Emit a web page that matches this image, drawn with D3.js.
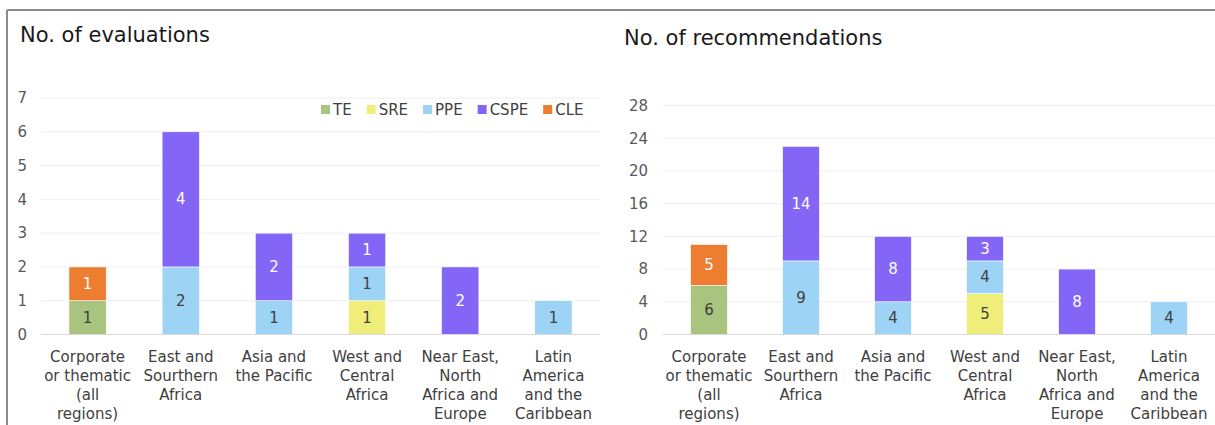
<!DOCTYPE html>
<html>
<head>
<meta charset="utf-8">
<script src="https://cdn.jsdelivr.net/npm/d3@7"></script>
<style>
  body { margin: 0; background: #fff; }
  svg { display: block; font-family: "DejaVu Sans", Verdana, sans-serif; }
</style>
</head>
<body>
<svg width="1215" height="425"></svg>
<script>
// DATA
const categories = [
  ["Corporate", "or thematic", "(all", "regions)"],
  ["East and", "Sourthern", "Africa"],
  ["Asia and", "the Pacific"],
  ["West and", "Central", "Africa"],
  ["Near East,", "North", "Africa and", "Europe"],
  ["Latin", "America", "and the", "Caribbean"]
];
const seriesNames = ["TE", "SRE", "PPE", "CSPE", "CLE"];

const evalTE   = [1, 0, 0, 0, 0, 0];
const evalSRE  = [0, 0, 0, 1, 0, 0];
const evalPPE  = [0, 2, 1, 1, 0, 1];
const evalCSPE = [0, 4, 2, 1, 2, 0];
const evalCLE  = [1, 0, 0, 0, 0, 0];
const evalTicks = [0, 1, 2, 3, 4, 5, 6, 7];

const recTE   = [6, 0, 0, 0, 0, 0];
const recSRE  = [0, 0, 0, 5, 0, 0];
const recPPE  = [0, 9, 4, 4, 0, 4];
const recCSPE = [0, 14, 8, 3, 8, 0];
const recCLE  = [5, 0, 0, 0, 0, 0];
const recTicks = [0, 4, 8, 12, 16, 20, 24, 28];

const colors = {TE: "#a9c47f", SRE: "#f0ee7a", PPE: "#9dd3f5", CSPE: "#8366f5", CLE: "#ed7d31"};
const labelColors = {TE: "#404040", SRE: "#404040", PPE: "#404040", CSPE: "#ffffff", CLE: "#ffffff"};

const svg = d3.select("svg");

// frame lines
svg.append("line").attr("x1", 7).attr("x2", 1215).attr("y1", 10).attr("y2", 10)
  .attr("stroke", "#8c8c8c").attr("stroke-width", 2);
svg.append("line").attr("x1", 7).attr("x2", 7).attr("y1", 10).attr("y2", 425)
  .attr("stroke", "#8c8c8c").attr("stroke-width", 2);

function drawChart(opt) {
  const rows = categories.map((c, i) => {
    const r = {i: i};
    seriesNames.forEach(s => { r[s] = opt.values[s][i]; });
    return r;
  });
  const stacked = d3.stack().keys(seriesNames)(rows);

  const x = d3.scaleBand().domain(d3.range(categories.length))
    .range([opt.left, opt.right]).paddingInner(0.6).paddingOuter(0.3);
  const y = d3.scaleLinear().domain([0, d3.max(opt.ticks)]).range([opt.bottom, opt.top]);

  const g = svg.append("g");

  // title
  g.append("text").attr("x", opt.titleX).attr("y", opt.titleY)
    .attr("font-size", 21).attr("fill", "#1a1a1a").text(opt.title);

  // gridlines
  g.selectAll(".grid").data(opt.ticks.filter(t => t > 0)).enter().append("line")
    .attr("x1", opt.left).attr("x2", opt.right)
    .attr("y1", d => y(d)).attr("y2", d => y(d))
    .attr("stroke", "#eeeeee").attr("stroke-width", 1);

  // y axis labels
  const yAxis = d3.axisLeft(y).tickValues(opt.ticks).tickFormat(d3.format("d")).tickSize(0).tickPadding(0);
  const ya = g.append("g").attr("transform", `translate(${opt.tickX},0)`).call(yAxis);
  ya.select(".domain").remove();
  ya.selectAll("text").attr("font-size", 15).attr("fill", "#595959")
    .attr("font-family", "DejaVu Sans, Verdana, sans-serif");

  // bars
  const layer = g.selectAll(".layer").data(stacked).enter().append("g")
    .attr("fill", d => colors[d.key]);
  layer.selectAll("rect").data(d => d.map(p => ({key: d.key, p: p}))).enter()
    .filter(d => d.p[1] - d.p[0] > 0)
    .append("rect")
    .attr("x", d => x(d.p.data.i))
    .attr("width", x.bandwidth())
    .attr("y", d => y(d.p[1]))
    .attr("height", d => y(d.p[0]) - y(d.p[1]))
    .attr("stroke", "#ffffff").attr("stroke-width", 0.6);

  // segment labels
  stacked.forEach(s => {
    s.forEach(p => {
      const v = p[1] - p[0];
      if (v <= 0) return;
      g.append("text")
        .attr("x", x(p.data.i) + x.bandwidth() / 2)
        .attr("y", (y(p[0]) + y(p[1])) / 2 + 5)
        .attr("text-anchor", "middle").attr("font-size", 15)
        .attr("fill", labelColors[s.key]).text(v);
    });
  });

  // baseline
  g.append("line").attr("x1", opt.left).attr("x2", opt.right)
    .attr("y1", y(0)).attr("y2", y(0)).attr("stroke", "#d9d9d9").attr("stroke-width", 1);

  // category labels
  categories.forEach((lines, i) => {
    const t = g.append("text").attr("text-anchor", "middle").attr("font-size", 15)
      .attr("fill", "#404040");
    lines.forEach((ln, k) => {
      t.append("tspan").attr("x", x(i) + x.bandwidth() / 2)
        .attr("y", opt.bottom + 27 + k * 19).text(ln);
    });
  });

  // legend
  if (opt.legend) {
    let lx = opt.legend.x;
    seriesNames.forEach(s => {
      g.append("rect").attr("x", lx).attr("y", opt.legend.y - 5).attr("width", 9).attr("height", 9)
        .attr("fill", colors[s]);
      const t = g.append("text").attr("x", lx + 12).attr("y", opt.legend.y + 5)
        .attr("font-size", 15).attr("fill", "#404040").text(s);
      lx += 12 + t.node().getComputedTextLength() + 15;
    });
  }
}

drawChart({
  title: "No. of evaluations", titleX: 20, titleY: 42,
  values: {TE: evalTE, SRE: evalSRE, PPE: evalPPE, CSPE: evalCSPE, CLE: evalCLE},
  ticks: evalTicks,
  left: 41, right: 600, top: 98, bottom: 334.5, tickX: 27,
  legend: {x: 321, y: 110}
});

drawChart({
  title: "No. of recommendations", titleX: 624, titleY: 45,
  values: {TE: recTE, SRE: recSRE, PPE: recPPE, CSPE: recCSPE, CLE: recCLE},
  ticks: recTicks,
  left: 663, right: 1215, top: 105.5, bottom: 334.5, tickX: 648
});
</script>
</body>
</html>
